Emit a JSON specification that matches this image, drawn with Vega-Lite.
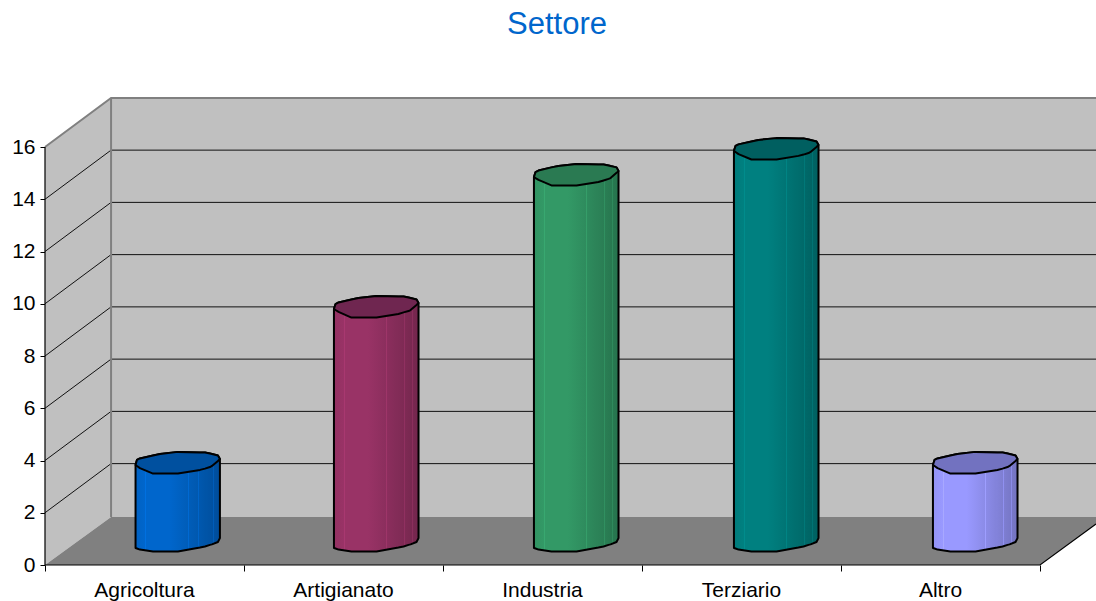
{
"$schema":"https://vega.github.io/schema/vega-lite/v6.json",
"width":1096,"height":601,"padding":0,"autosize":{"type":"none"},
"background":"white",
"view":{"stroke":null},
"config":{"font":"Liberation Sans"},
"title":{"text":"Settore","color":"#0066CC","fontSize":31,"fontWeight":"normal","font":"Liberation Sans","anchor":"middle","offset":-41,"dx":9},
"datasets":{
"walls":[
{"p":"back","x":0.332,"y":1.837,"y2":17.876},{"p":"back","x":5.2814,"y":1.837,"y2":17.876},
{"p":"side","x":0,"y":0,"y2":16},{"p":"side","x":0.332,"y":1.837,"y2":17.876},
{"p":"floor","x":0,"y":0,"y2":0},{"p":"floor","x":0.332,"y":0,"y2":1.837},{"p":"floor","x":5,"y":0,"y2":1.837},{"p":"floor","x":5.2814,"y":1.57,"y2":1.837}
],
"grid":[
{"g":2,"x":0,"y":2},{"g":2,"x":0.332,"y":3.88},{"g":2,"x":5.2814,"y":3.88},
{"g":4,"x":0,"y":4},{"g":4,"x":0.332,"y":5.88},{"g":4,"x":5.2814,"y":5.88},
{"g":6,"x":0,"y":6},{"g":6,"x":0.332,"y":7.88},{"g":6,"x":5.2814,"y":7.88},
{"g":8,"x":0,"y":8},{"g":8,"x":0.332,"y":9.88},{"g":8,"x":5.2814,"y":9.88},
{"g":10,"x":0,"y":10},{"g":10,"x":0.332,"y":11.88},{"g":10,"x":5.2814,"y":11.88},
{"g":12,"x":0,"y":12},{"g":12,"x":0.332,"y":13.88},{"g":12,"x":5.2814,"y":13.88},
{"g":14,"x":0,"y":14},{"g":14,"x":0.332,"y":15.88},{"g":14,"x":5.2814,"y":15.88}
],
"edges":[
{"g":"top","x":0,"y":16},{"g":"top","x":0.332,"y":17.876},{"g":"top","x":5.2814,"y":17.876},
{"g":"corner","x":0.332,"y":17.876},{"g":"corner","x":0.332,"y":1.837}
],
"frame":[
{"g":"left","x":0,"y":16},{"g":"left","x":0,"y":0},
{"g":"front","x":0,"y":0},{"g":"front","x":5,"y":0},{"g":"front","x":5.2814,"y":1.57}
],
"cats":[
{"x":0.5,"y":-0.98,"c":"Agricoltura"},{"x":1.5,"y":-0.98,"c":"Artigianato"},{"x":2.5,"y":-0.98,"c":"Industria"},{"x":3.5,"y":-0.98,"c":"Terziario"},{"x":4.5,"y":-0.98,"c":"Altro"}
],
"cyl":[
{"c":"Agricoltura","x":0.455,"a":3.83,"b":3.83,"f":0.65},{"c":"Agricoltura","x":0.462,"a":4.02,"b":3.79,"f":0.63},{"c":"Agricoltura","x":0.477,"a":4.08,"b":3.71,"f":0.59},{"c":"Agricoltura","x":0.543,"a":4.19,"b":3.50,"f":0.52},{"c":"Agricoltura","x":0.578,"a":4.25,"b":3.50,"f":0.52},{"c":"Agricoltura","x":0.668,"a":4.33,"b":3.50,"f":0.52},{"c":"Agricoltura","x":0.779,"a":4.31,"b":3.64,"f":0.67},{"c":"Agricoltura","x":0.804,"a":4.31,"b":3.69,"f":0.71},{"c":"Agricoltura","x":0.829,"a":4.27,"b":3.75,"f":0.77},{"c":"Agricoltura","x":0.839,"a":4.25,"b":3.79,"f":0.79},{"c":"Agricoltura","x":0.869,"a":4.19,"b":3.98,"f":0.88},{"c":"Agricoltura","x":0.879,"a":4.06,"b":4.06,"f":1.03},
{"c":"Artigianato","x":1.452,"a":9.80,"b":9.80,"f":0.65},{"c":"Artigianato","x":1.460,"a":9.99,"b":9.76,"f":0.63},{"c":"Artigianato","x":1.475,"a":10.05,"b":9.69,"f":0.59},{"c":"Artigianato","x":1.540,"a":10.16,"b":9.47,"f":0.52},{"c":"Artigianato","x":1.575,"a":10.22,"b":9.47,"f":0.52},{"c":"Artigianato","x":1.666,"a":10.30,"b":9.47,"f":0.52},{"c":"Artigianato","x":1.776,"a":10.28,"b":9.61,"f":0.67},{"c":"Artigianato","x":1.802,"a":10.28,"b":9.67,"f":0.71},{"c":"Artigianato","x":1.827,"a":10.24,"b":9.72,"f":0.77},{"c":"Artigianato","x":1.837,"a":10.22,"b":9.76,"f":0.79},{"c":"Artigianato","x":1.867,"a":10.16,"b":9.95,"f":0.88},{"c":"Artigianato","x":1.877,"a":10.03,"b":10.03,"f":1.03},
{"c":"Industria","x":2.457,"a":14.85,"b":14.85,"f":0.65},{"c":"Industria","x":2.465,"a":15.04,"b":14.81,"f":0.63},{"c":"Industria","x":2.480,"a":15.10,"b":14.74,"f":0.59},{"c":"Industria","x":2.545,"a":15.22,"b":14.53,"f":0.52},{"c":"Industria","x":2.580,"a":15.27,"b":14.53,"f":0.52},{"c":"Industria","x":2.671,"a":15.35,"b":14.53,"f":0.52},{"c":"Industria","x":2.781,"a":15.33,"b":14.66,"f":0.67},{"c":"Industria","x":2.807,"a":15.33,"b":14.72,"f":0.71},{"c":"Industria","x":2.832,"a":15.29,"b":14.78,"f":0.77},{"c":"Industria","x":2.842,"a":15.27,"b":14.81,"f":0.79},{"c":"Industria","x":2.872,"a":15.22,"b":15.01,"f":0.88},{"c":"Industria","x":2.882,"a":15.08,"b":15.08,"f":1.03},
{"c":"Terziario","x":3.462,"a":15.85,"b":15.85,"f":0.65},{"c":"Terziario","x":3.470,"a":16.04,"b":15.81,"f":0.63},{"c":"Terziario","x":3.485,"a":16.10,"b":15.73,"f":0.59},{"c":"Terziario","x":3.550,"a":16.21,"b":15.52,"f":0.52},{"c":"Terziario","x":3.585,"a":16.27,"b":15.52,"f":0.52},{"c":"Terziario","x":3.676,"a":16.34,"b":15.52,"f":0.52},{"c":"Terziario","x":3.786,"a":16.33,"b":15.66,"f":0.67},{"c":"Terziario","x":3.812,"a":16.33,"b":15.71,"f":0.71},{"c":"Terziario","x":3.837,"a":16.29,"b":15.77,"f":0.77},{"c":"Terziario","x":3.847,"a":16.27,"b":15.81,"f":0.79},{"c":"Terziario","x":3.877,"a":16.21,"b":16.00,"f":0.88},{"c":"Terziario","x":3.887,"a":16.08,"b":16.08,"f":1.03},
{"c":"Altro","x":4.462,"a":3.83,"b":3.83,"f":0.65},{"c":"Altro","x":4.470,"a":4.02,"b":3.79,"f":0.63},{"c":"Altro","x":4.485,"a":4.08,"b":3.71,"f":0.59},{"c":"Altro","x":4.550,"a":4.19,"b":3.50,"f":0.52},{"c":"Altro","x":4.585,"a":4.25,"b":3.50,"f":0.52},{"c":"Altro","x":4.676,"a":4.33,"b":3.50,"f":0.52},{"c":"Altro","x":4.786,"a":4.31,"b":3.64,"f":0.67},{"c":"Altro","x":4.812,"a":4.31,"b":3.69,"f":0.71},{"c":"Altro","x":4.837,"a":4.27,"b":3.75,"f":0.77},{"c":"Altro","x":4.847,"a":4.25,"b":3.79,"f":0.79},{"c":"Altro","x":4.877,"a":4.19,"b":3.98,"f":0.88},{"c":"Altro","x":4.887,"a":4.06,"b":4.06,"f":1.03}
]
},
"encoding":{
"x":{"field":"x","type":"quantitative","title":null,"scale":{"domain":[-0.2261,5.2814],"nice":false,"zero":false},
 "axis":{"offset":-36,"values":[0,1,2,3,4,5],"labels":false,"domain":false,"grid":false,"ticks":true,"tickSize":6,"tickColor":"black","tickWidth":1}},
"y":{"field":"y","type":"quantitative","title":null,"scale":{"domain":[-1.378,21.627],"nice":false,"zero":false},
 "axis":{"offset":-45,"values":[0,2,4,6,8,10,12,14,16],"domain":false,"grid":false,"ticks":true,"tickSize":5,"tickColor":"black","tickWidth":1,"labelFontSize":21,"labelColor":"black","labelFont":"Liberation Sans","labelPadding":5}}
},
"layer":[
{"data":{"name":"walls"},"mark":{"type":"area"},
 "encoding":{"y2":{"field":"y2"},"detail":{"field":"p"},
 "color":{"field":"p","type":"nominal","legend":null,"scale":{"domain":["back","side","floor"],"range":["#C0C0C0","#C0C0C0","#808080"]}}}},
{"data":{"name":"grid"},"mark":{"type":"line","color":"#111111","strokeWidth":1},"encoding":{"detail":{"field":"g"}}},
{"data":{"name":"edges"},"mark":{"type":"line","color":"#808080","strokeWidth":2},"encoding":{"detail":{"field":"g"}}},
{"data":{"name":"frame"},"mark":{"type":"line","color":"black","strokeWidth":1.2},"encoding":{"detail":{"field":"g"}}},
{"data":{"name":"cyl"},"transform":[{"filter":"datum.c==='Agricoltura'"}],
 "mark":{"type":"area","stroke":"black","strokeWidth":2,"strokeJoin":"round","color":{"gradient":"linear","x1":0,"x2":1,"y1":0,"y2":0,"stops":[{"offset":0,"color":"#0062C4"},{"offset":0.115,"color":"#0066CC"},{"offset":0.115,"color":"#0070E0"},{"offset":0.125,"color":"#0070E0"},{"offset":0.125,"color":"#0066CC"},{"offset":0.4,"color":"#0066CC"},{"offset":0.62,"color":"#005DB9"},{"offset":0.62,"color":"#0069D2"},{"offset":0.63,"color":"#0069D2"},{"offset":0.63,"color":"#005DB9"},{"offset":0.74,"color":"#0058AF"},{"offset":0.74,"color":"#0064C8"},{"offset":0.75,"color":"#0064C8"},{"offset":0.75,"color":"#0058AF"},{"offset":0.83,"color":"#0054A7"},{"offset":0.83,"color":"#0060C0"},{"offset":0.84,"color":"#0060C0"},{"offset":0.84,"color":"#0054A7"},{"offset":0.92,"color":"#0050A0"},{"offset":0.92,"color":"#005CB8"},{"offset":0.93,"color":"#005CB8"},{"offset":0.93,"color":"#0050A0"},{"offset":1,"color":"#004C99"}]}},
 "encoding":{"y":{"field":"a","type":"quantitative"},"y2":{"field":"f"}}},
{"data":{"name":"cyl"},"transform":[{"filter":"datum.c==='Artigianato'"}],
 "mark":{"type":"area","stroke":"black","strokeWidth":2,"strokeJoin":"round","color":{"gradient":"linear","x1":0,"x2":1,"y1":0,"y2":0,"stops":[{"offset":0,"color":"#933162"},{"offset":0.115,"color":"#993366"},{"offset":0.115,"color":"#A83870"},{"offset":0.125,"color":"#A83870"},{"offset":0.125,"color":"#993366"},{"offset":0.4,"color":"#993366"},{"offset":0.62,"color":"#8B2E5D"},{"offset":0.62,"color":"#9E3569"},{"offset":0.63,"color":"#9E3569"},{"offset":0.63,"color":"#8B2E5D"},{"offset":0.74,"color":"#832C58"},{"offset":0.74,"color":"#963264"},{"offset":0.75,"color":"#963264"},{"offset":0.75,"color":"#832C58"},{"offset":0.83,"color":"#7E2A54"},{"offset":0.83,"color":"#903060"},{"offset":0.84,"color":"#903060"},{"offset":0.84,"color":"#7E2A54"},{"offset":0.92,"color":"#782850"},{"offset":0.92,"color":"#8A2E5C"},{"offset":0.93,"color":"#8A2E5C"},{"offset":0.93,"color":"#782850"},{"offset":1,"color":"#73264D"}]}},
 "encoding":{"y":{"field":"a","type":"quantitative"},"y2":{"field":"f"}}},
{"data":{"name":"cyl"},"transform":[{"filter":"datum.c==='Industria'"}],
 "mark":{"type":"area","stroke":"black","strokeWidth":2,"strokeJoin":"round","color":{"gradient":"linear","x1":0,"x2":1,"y1":0,"y2":0,"stops":[{"offset":0,"color":"#319362"},{"offset":0.115,"color":"#339966"},{"offset":0.115,"color":"#38A870"},{"offset":0.125,"color":"#38A870"},{"offset":0.125,"color":"#339966"},{"offset":0.4,"color":"#339966"},{"offset":0.62,"color":"#2E8B5D"},{"offset":0.62,"color":"#359E69"},{"offset":0.63,"color":"#359E69"},{"offset":0.63,"color":"#2E8B5D"},{"offset":0.74,"color":"#2C8358"},{"offset":0.74,"color":"#329664"},{"offset":0.75,"color":"#329664"},{"offset":0.75,"color":"#2C8358"},{"offset":0.83,"color":"#2A7E54"},{"offset":0.83,"color":"#309060"},{"offset":0.84,"color":"#309060"},{"offset":0.84,"color":"#2A7E54"},{"offset":0.92,"color":"#287850"},{"offset":0.92,"color":"#2E8A5C"},{"offset":0.93,"color":"#2E8A5C"},{"offset":0.93,"color":"#287850"},{"offset":1,"color":"#26734D"}]}},
 "encoding":{"y":{"field":"a","type":"quantitative"},"y2":{"field":"f"}}},
{"data":{"name":"cyl"},"transform":[{"filter":"datum.c==='Terziario'"}],
 "mark":{"type":"area","stroke":"black","strokeWidth":2,"strokeJoin":"round","color":{"gradient":"linear","x1":0,"x2":1,"y1":0,"y2":0,"stops":[{"offset":0,"color":"#007B7B"},{"offset":0.115,"color":"#008080"},{"offset":0.115,"color":"#008C8C"},{"offset":0.125,"color":"#008C8C"},{"offset":0.125,"color":"#008080"},{"offset":0.4,"color":"#008080"},{"offset":0.62,"color":"#007474"},{"offset":0.62,"color":"#008484"},{"offset":0.63,"color":"#008484"},{"offset":0.63,"color":"#007474"},{"offset":0.74,"color":"#006E6E"},{"offset":0.74,"color":"#007D7D"},{"offset":0.75,"color":"#007D7D"},{"offset":0.75,"color":"#006E6E"},{"offset":0.83,"color":"#006969"},{"offset":0.83,"color":"#007878"},{"offset":0.84,"color":"#007878"},{"offset":0.84,"color":"#006969"},{"offset":0.92,"color":"#006464"},{"offset":0.92,"color":"#007373"},{"offset":0.93,"color":"#007373"},{"offset":0.93,"color":"#006464"},{"offset":1,"color":"#006060"}]}},
 "encoding":{"y":{"field":"a","type":"quantitative"},"y2":{"field":"f"}}},
{"data":{"name":"cyl"},"transform":[{"filter":"datum.c==='Altro'"}],
 "mark":{"type":"area","stroke":"black","strokeWidth":2,"strokeJoin":"round","color":{"gradient":"linear","x1":0,"x2":1,"y1":0,"y2":0,"stops":[{"offset":0,"color":"#9393F5"},{"offset":0.115,"color":"#9999FF"},{"offset":0.115,"color":"#A8A8FF"},{"offset":0.125,"color":"#A8A8FF"},{"offset":0.125,"color":"#9999FF"},{"offset":0.4,"color":"#9999FF"},{"offset":0.62,"color":"#8B8BE7"},{"offset":0.62,"color":"#9E9EFF"},{"offset":0.63,"color":"#9E9EFF"},{"offset":0.63,"color":"#8B8BE7"},{"offset":0.74,"color":"#8383DB"},{"offset":0.74,"color":"#9696FA"},{"offset":0.75,"color":"#9696FA"},{"offset":0.75,"color":"#8383DB"},{"offset":0.83,"color":"#7E7ED1"},{"offset":0.83,"color":"#9090F0"},{"offset":0.84,"color":"#9090F0"},{"offset":0.84,"color":"#7E7ED1"},{"offset":0.92,"color":"#7878C8"},{"offset":0.92,"color":"#8A8AE6"},{"offset":0.93,"color":"#8A8AE6"},{"offset":0.93,"color":"#7878C8"},{"offset":1,"color":"#7373BF"}]}},
 "encoding":{"y":{"field":"a","type":"quantitative"},"y2":{"field":"f"}}},
{"data":{"name":"cyl"},"mark":{"type":"area","stroke":"black","strokeWidth":2,"strokeJoin":"round"},
 "encoding":{"y":{"field":"a","type":"quantitative"},"y2":{"field":"b"},"detail":{"field":"c"},
 "color":{"field":"c","type":"nominal","legend":null,"scale":{"name":"cap","domain":["Agricoltura","Artigianato","Industria","Terziario","Altro"],"range":["#00509F","#6F2650","#2A7A52","#005F60","#7272C0"]}}}},
{"data":{"name":"cats"},"mark":{"type":"text","font":"Liberation Sans","fontSize":21,"color":"black","align":"center","baseline":"middle"},
 "encoding":{"text":{"field":"c"}}}
],
"resolve":{"scale":{"color":"independent"}}
}
